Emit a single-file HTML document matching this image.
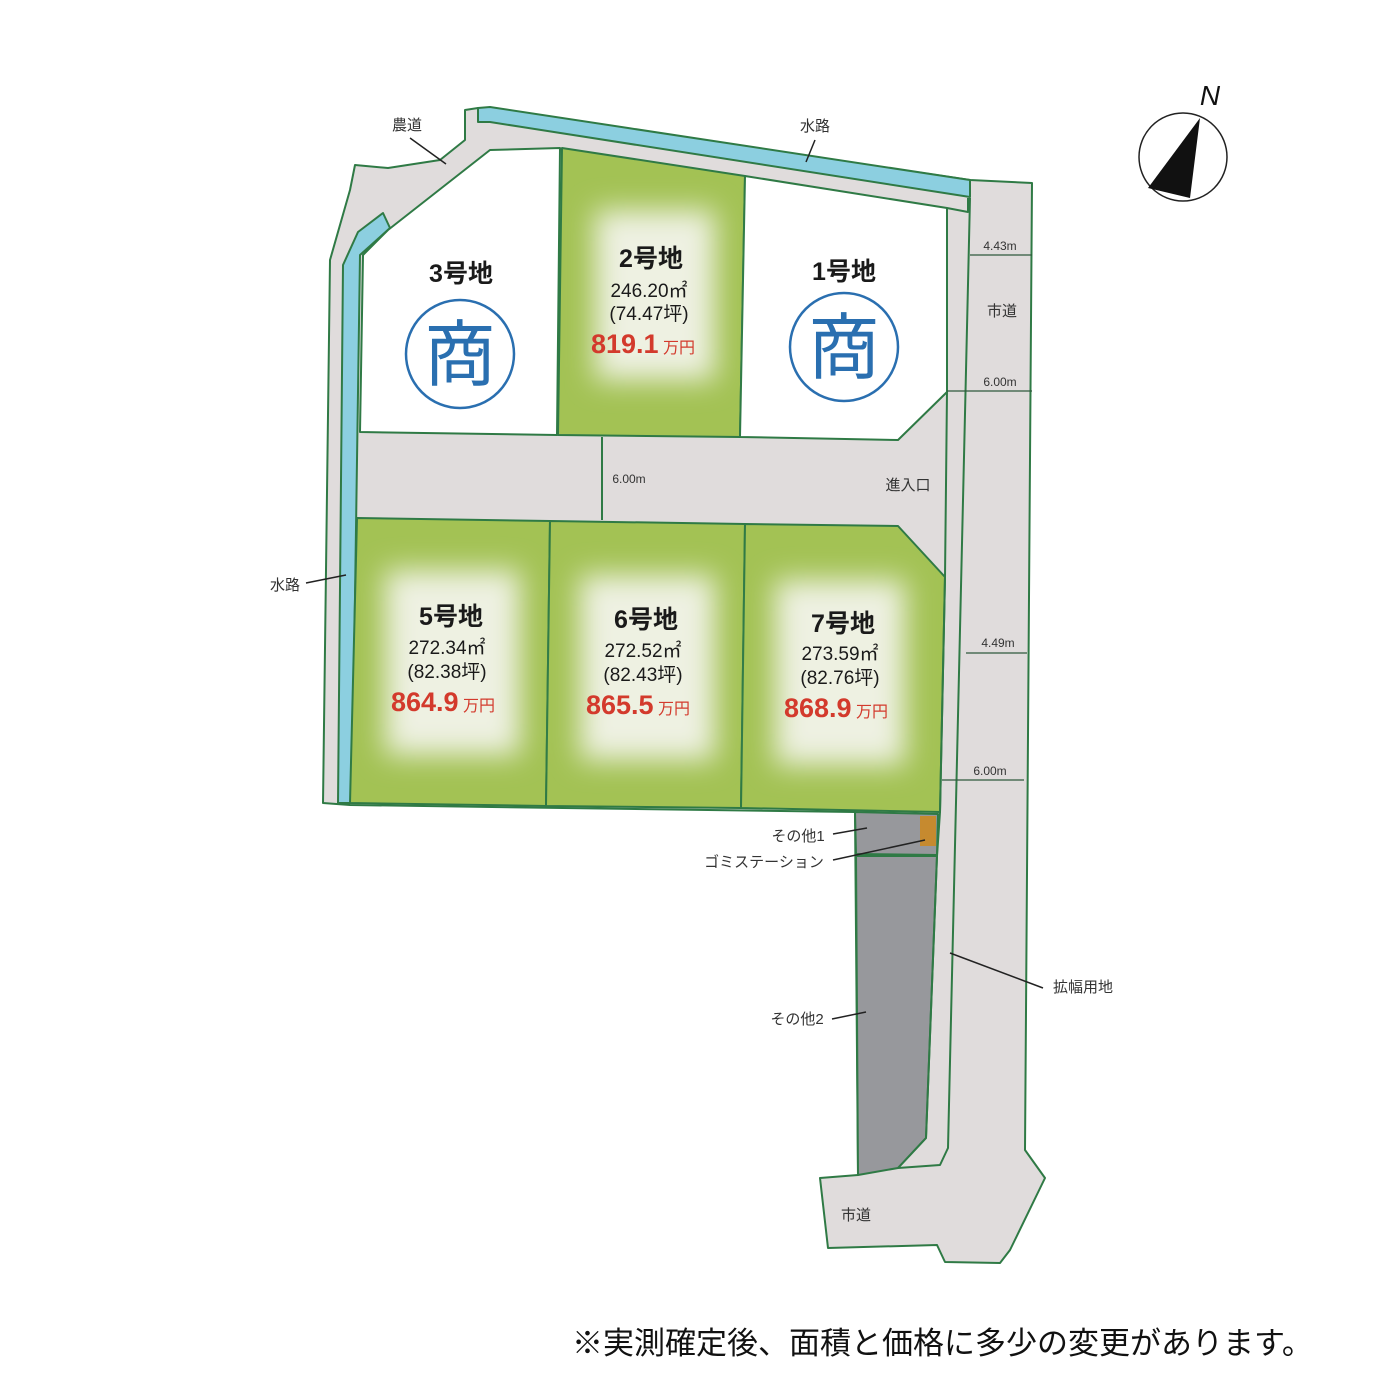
<!DOCTYPE html>
<html><head><meta charset="utf-8"><style>
body{margin:0;background:#fff}
svg{display:block}
text{font-family:"Liberation Sans","Noto Sans CJK JP",sans-serif}
</style></head><body>
<svg width="1380" height="1380" viewBox="0 0 1380 1380" xmlns="http://www.w3.org/2000/svg">
<defs><filter id="b" x="-30%" y="-30%" width="160%" height="160%"><feGaussianBlur stdDeviation="14"/></filter></defs>
<g stroke="#2f7a45" stroke-width="2" stroke-linejoin="round">
<polygon fill="#e0dcdc" points="355,165 388,168 440,160 465,140 465,110 478,108 970,180 1032,183 1025,1150 1045,1178 1010,1250 1000,1263 945,1262 937,1245 828,1248 820,1178 858,1175 855,812 350,805 323,803 330,260 350,190"/>
<polygon fill="#8ccfe0" points="478,108 490,107 970,180 970,197 490,122 478,122"/>
<polygon fill="#8ccfe0" points="383,213 390,228 360,255 352,803 338,803 343,265 358,232"/>
<polygon fill="#fff" points="388,230 490,150 560,148 557,435 360,432 363,255"/>
<polygon fill="#a3c254" points="562,148 745,176 740,437 558,435"/>
<polygon fill="#fff" points="745,176 947,208 947,392 898,440 740,437"/>
<polygon fill="#a3c254" points="357,518 550,521 546,806 350,803"/>
<polygon fill="#a3c254" points="550,521 745,524 741,808 546,806"/>
<polygon fill="#a3c254" points="745,524 898,526 945,577 940,812 741,808"/>
<polygon fill="#97989c" points="855,812 938,814 937,855 856,854"/>
<polygon fill="#97989c" points="856,856 937,856 926,1138 898,1168 858,1175"/>
<polyline fill="none" points="947,208 968,212 968,198"/>
<polyline fill="none" points="947,392 945,577 940,812 937,856 926,1138 898,1168 940,1165 948,1148 970,198"/>
<polyline fill="none" points="970,180 970,197"/>
<line x1="602" y1="437" x2="602" y2="520"/>
</g>
<g stroke="#2f5a3c" stroke-width="1.2">
<line x1="970" y1="255" x2="1032" y2="255"/><line x1="947" y1="391" x2="1032" y2="391"/>
<line x1="966" y1="653" x2="1027" y2="653"/><line x1="942" y1="780" x2="1024" y2="780"/>
</g>
<g fill="#eef1e2" filter="url(#b)">
<rect x="595" y="210" width="120" height="170"/>
<rect x="385" y="570" width="135" height="185"/>
<rect x="580" y="575" width="135" height="185"/>
<rect x="775" y="580" width="130" height="185"/>
</g>
<rect x="920" y="816" width="16" height="30" fill="#c68a2f"/>
<g stroke="#222" stroke-width="1.5">
<line x1="410" y1="138" x2="446" y2="164"/><line x1="815" y1="140" x2="806" y2="162"/>
<line x1="306" y1="583" x2="346" y2="575"/><line x1="833" y1="834" x2="867" y2="828"/>
<line x1="833" y1="860" x2="925" y2="840"/><line x1="832" y1="1019" x2="866" y2="1012"/>
<line x1="950" y1="953" x2="1043" y2="988"/>
</g>
<g fill="#fff" stroke="#2a6fb0" stroke-width="2.5"><circle cx="460" cy="354" r="54"/><circle cx="844" cy="347" r="54"/></g>
<g fill="#2a6fb0" font-size="72" text-anchor="middle"><text x="460" y="380">商</text><text x="844" y="373">商</text></g>
<g font-size="15" fill="#333" text-anchor="middle">
<text x="407" y="130">農道</text><text x="815" y="131">水路</text><text x="285" y="590">水路</text>
<text x="1002" y="316">市道</text><text x="908" y="490">進入口</text><text x="856" y="1220">市道</text>
<text x="798" y="841">その他1</text><text x="764" y="867">ゴミステーション</text><text x="797" y="1024">その他2</text>
<text x="1083" y="992">拡幅用地</text>
</g>
<g font-size="12" fill="#333" text-anchor="middle">
<text x="1000" y="250">4.43m</text><text x="1000" y="386">6.00m</text><text x="629" y="483">6.00m</text>
<text x="998" y="647">4.49m</text><text x="990" y="775">6.00m</text>
</g>
<g text-anchor="middle" fill="#1a1a1a">
<g font-size="25" font-weight="bold"><text x="461" y="282">3号地</text><text x="651" y="267">2号地</text><text x="844" y="280">1号地</text>
<text x="451" y="625">5号地</text><text x="646" y="628">6号地</text><text x="843" y="632">7号地</text></g>
<g font-size="19"><text x="649" y="297">246.20㎡</text><text x="649" y="320">(74.47坪)</text>
<text x="447" y="654">272.34㎡</text><text x="447" y="678">(82.38坪)</text>
<text x="643" y="657">272.52㎡</text><text x="643" y="681">(82.43坪)</text>
<text x="840" y="660">273.59㎡</text><text x="840" y="684">(82.76坪)</text></g>
</g>
<g fill="#d33a2c" font-weight="bold" font-size="27">
<text x="591" y="353">819.1<tspan font-size="16" font-weight="normal"> 万円</tspan></text>
<text x="391" y="711">864.9<tspan font-size="16" font-weight="normal"> 万円</tspan></text>
<text x="586" y="714">865.5<tspan font-size="16" font-weight="normal"> 万円</tspan></text>
<text x="784" y="717">868.9<tspan font-size="16" font-weight="normal"> 万円</tspan></text>
</g>
<circle cx="1183" cy="157" r="44" fill="#fff" stroke="#222" stroke-width="1.5"/>
<polygon points="1200,118 1148,188 1190,198" fill="#111"/>
<text x="1210" y="105" font-size="28" font-style="italic" text-anchor="middle" fill="#111">N</text>
<text x="572" y="1354" font-size="31" fill="#111">※実測確定後、面積と価格に多少の変更があります。</text>
</svg>
</body></html>
